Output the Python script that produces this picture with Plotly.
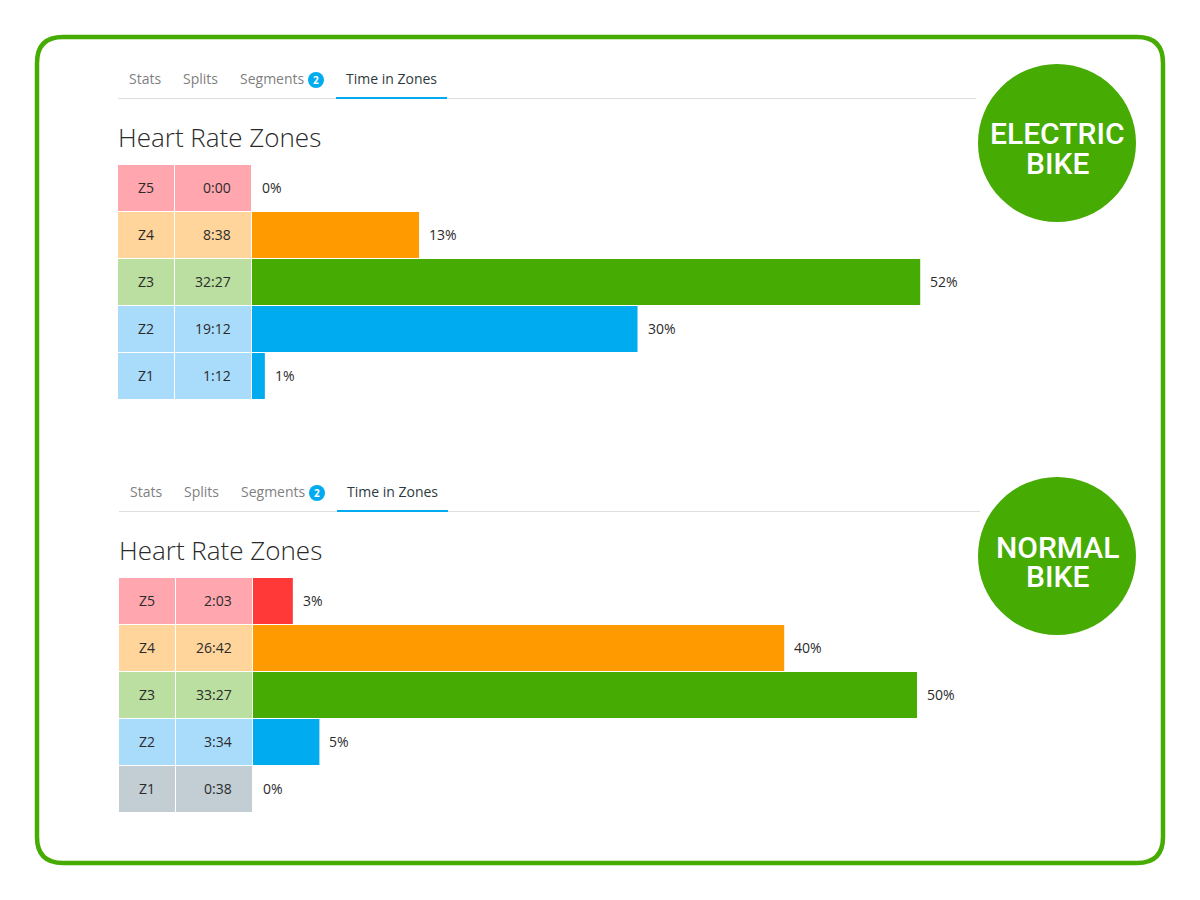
import plotly.graph_objects as go

W, H = 1200, 900
zones = ["Z5", "Z4", "Z3", "Z2", "Z1"]
tabs = ["Stats", "Splits", "Segments", "Time in Zones"]
title_text = "Heart Rate Zones"

times_electric = ["0:00", "8:38", "32:27", "19:12", "1:12"]
pct_electric = [0, 13, 52, 30, 1]
times_normal = ["2:03", "26:42", "33:27", "3:34", "0:38"]
pct_normal = [3, 40, 50, 5, 0]

badge_electric = ["ELECTRIC", "BIKE"]
badge_normal = ["NORMAL", "BIKE"]

light_electric = ["#FFA6AF", "#FFD59B", "#BADFA0", "#A9DCFB", "#A9DCFB"]
strong_electric = ["#FF3838", "#FF9B00", "#46AB03", "#00ABEF", "#00ABEF"]
light_normal = ["#FFA6AF", "#FFD59B", "#BADFA0", "#A9DCFB", "#C2CDD4"]
strong_normal = ["#FF3838", "#FF9B00", "#46AB03", "#00ABEF", "#C2CDD4"]

GREEN = "#46AB03"
FONT = "Open Sans"
DARK = "#2b2b2b"


def px(x):
    return x / W


def py(y):
    return 1 - y / H


fig = go.Figure()
annotations = []
shapes = []


def text(x, y, s, size, color=DARK, anchor="left", weight=400, family=FONT):
    annotations.append(dict(x=px(x), y=py(y), xref="paper", yref="paper", text=s,
                            showarrow=False, xanchor=anchor, yanchor="middle",
                            font=dict(family=family, size=size, color=color, weight=weight)))


def panel(idx, dx, dy, times, pcts, light, strong, scale_max, line_end):
    a = idx * 3 + 1
    yname = "y" if idx == 0 else "y2"
    ykey = "yaxis" if idx == 0 else "yaxis2"
    x_names = ["x" if a == 1 else f"x{a}", f"x{a+1}", f"x{a+2}"]
    x_keys = ["xaxis" if a == 1 else f"xaxis{a}", f"xaxis{a+1}", f"xaxis{a+2}"]
    domains = [(118 + dx, 174 + dx), (175 + dx, 251 + dx), (252 + dx, 970 + dx)]
    ranges = [[0, 1], [0, 1], [0, scale_max]]
    for key, d, r, nm in zip(x_keys, domains, ranges, x_names):
        fig.layout[key] = dict(domain=[px(d[0]), px(d[1])], range=r, visible=False,
                               anchor=yname, fixedrange=True)
    fig.layout[ykey] = dict(domain=[py(164.5 + dy + 235), py(164.5 + dy)], type="category",
                            categoryorder="array", categoryarray=zones,
                            range=[4.5, -0.5], visible=False, anchor=x_names[0],
                            fixedrange=True)
    fig.add_trace(go.Bar(y=zones, x=[1] * 5, orientation="h", marker=dict(color=light, line_width=0),
                         xaxis=x_names[0], yaxis=yname, hoverinfo="skip", showlegend=False))
    fig.add_trace(go.Bar(y=zones, x=[1] * 5, orientation="h", marker=dict(color=light, line_width=0),
                         xaxis=x_names[1], yaxis=yname, hoverinfo="skip", showlegend=False))
    fig.add_trace(go.Bar(y=zones, x=pcts, orientation="h", marker=dict(color=strong, line_width=0),
                         xaxis=x_names[2], yaxis=yname, hoverinfo="skip", showlegend=False))
    for z, t, p in zip(zones, times, pcts):
        font = dict(family=FONT, size=14, color=DARK)
        annotations.append(dict(x=0.5, y=z, xref=f"{x_names[0]}", yref=yname, text=z, yshift=1,
                                showarrow=False, xanchor="center", font=font))
        annotations.append(dict(x=1, y=z, xref=f"{x_names[1]}", yref=yname, text=t, xshift=-18, yshift=1,
                                showarrow=False, xanchor="right", font=font))
        annotations.append(dict(x=p, y=z, xref=f"{x_names[2]}", yref=yname, text=f"{p}%", xshift=8, yshift=1,
                                showarrow=False, xanchor="left", font=font))
    # tabs
    ty = 79 + dy
    text(127 + dx, ty, tabs[0], 14, "#7f7f7f")
    text(181 + dx, ty, tabs[1], 14, "#7f7f7f")
    text(238 + dx, ty, tabs[2], 14, "#7f7f7f")
    text(344 + dx, ty, tabs[3], 14, "#2e3a40")
    shapes.append(dict(type="line", xref="paper", yref="paper", x0=px(118 + dx), x1=px(line_end),
                       y0=py(98.5 + dy), y1=py(98.5 + dy), line=dict(color="#dcdfe1", width=1)))
    shapes.append(dict(type="line", xref="paper", yref="paper", x0=px(336 + dx), x1=px(447 + dx),
                       y0=py(98 + dy), y1=py(98 + dy), line=dict(color="#00ABEF", width=2)))
    shapes.append(dict(type="circle", xref="paper", yref="paper", x0=px(308 + dx), x1=px(324 + dx),
                       y0=py(88 + dy), y1=py(72 + dy), fillcolor="#00ABEF", line_width=0))
    text(316 + dx, 80 + dy, "2", 10, "white", "center", 700)
    text(116 + dx, 137 + dy, title_text, 26, "#2a2a2a", "left", 300)


panel(0, 0, 0, times_electric, pct_electric, light_electric, strong_electric, 718 / 12.85, 976)
panel(1, 1, 413, times_normal, pct_normal, light_normal, strong_normal, 718 / 13.28, 980)

for cy, label in ((143, badge_electric), (556, badge_normal)):
    shapes.append(dict(type="circle", xref="paper", yref="paper", x0=px(978), x1=px(1136),
                       y0=py(cy + 79), y1=py(cy - 79), fillcolor=GREEN, line_width=0))
    text(1057, cy - 9, label[0], 30, "white", "center", 500, "Roboto")
    text(1057, cy + 20, label[1], 30, "white", "center", 500, "Roboto")

# outer rounded frame
x0, x1, y0, y1, r = px(37), px(1163), py(37), py(863), 26
rx, ry = r / W, r / H
shapes.append(dict(type="path", xref="paper", yref="paper",
                   path=(f"M {x0+rx} {y0} L {x1-rx} {y0} Q {x1} {y0} {x1} {y0-ry} "
                         f"L {x1} {y1+ry} Q {x1} {y1} {x1-rx} {y1} "
                         f"L {x0+rx} {y1} Q {x0} {y1} {x0} {y1+ry} "
                         f"L {x0} {y0-ry} Q {x0} {y0} {x0+rx} {y0} Z"),
                   line=dict(color=GREEN, width=4.5)))

fig.update_layout(width=W, height=H, margin=dict(l=0, r=0, t=0, b=0), autosize=False,
                  paper_bgcolor="white", plot_bgcolor="white", barmode="overlay", bargap=1 / 47,
                  showlegend=False, annotations=annotations, shapes=shapes)

fig.write_html("out.html", config=dict(displayModeBar=False),
               post_script="document.body.style.margin='0';document.documentElement.style.overflow='hidden';")
